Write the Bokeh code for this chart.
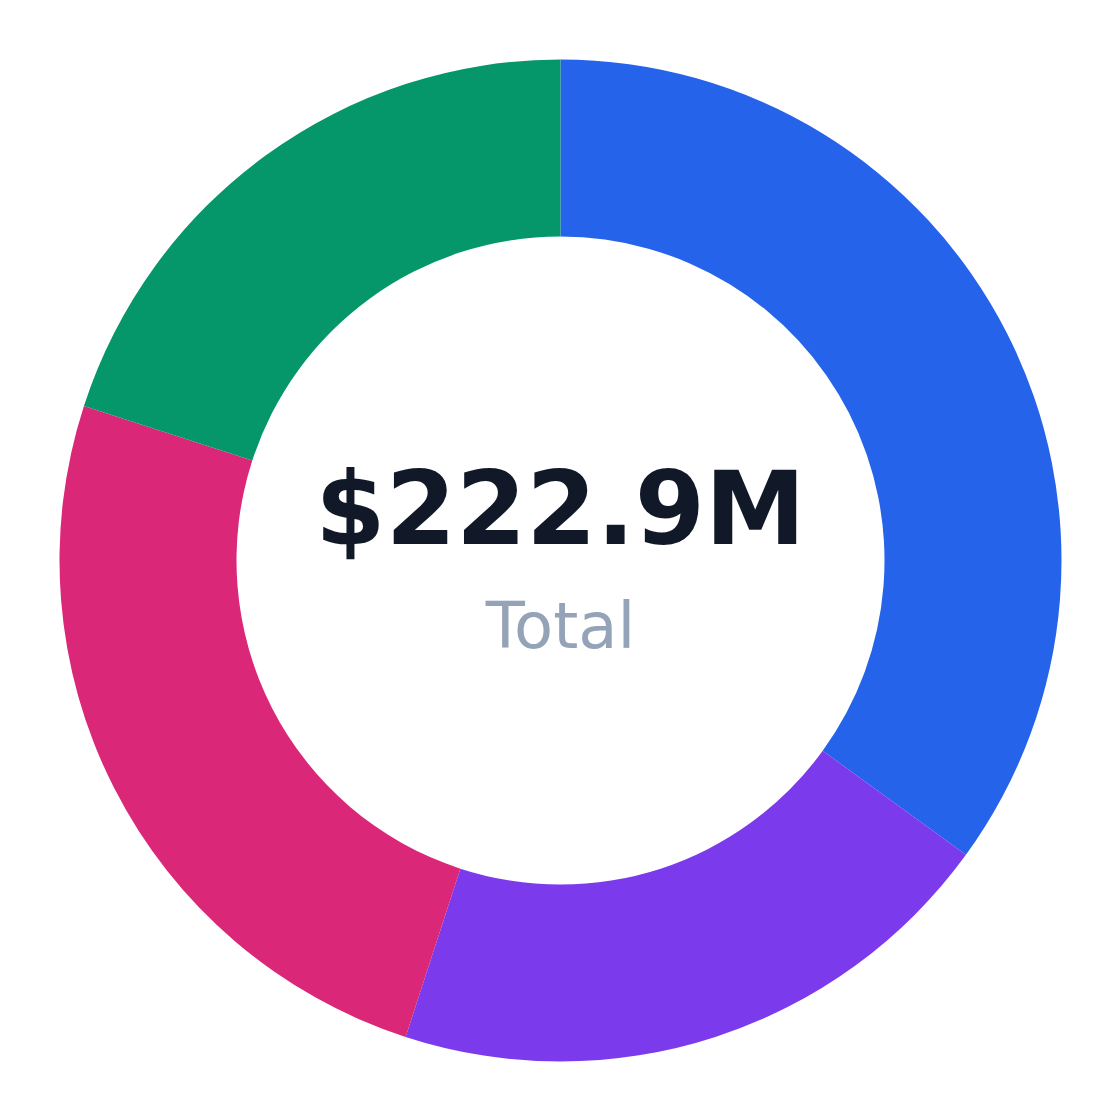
import numpy as np
from bokeh.plotting import figure
from bokeh.models import Range1d, ColumnDataSource
from bokeh.core.properties import value
from bokeh.embed import file_html
from bokeh.resources import INLINE

categories = ["Segment A", "Segment B", "Segment C", "Segment D"]
values = [78.0, 44.6, 55.7, 44.6]
colors = ["#2563eb", "#7c3aed", "#db2777", "#059669"]
total_label = "$222.9M"
sub_label = "Total"

total = sum(values)
fracs = np.array(values) / total
cum = np.concatenate([[0.0], np.cumsum(fracs)])
start = np.pi / 2 - 2 * np.pi * cum[:-1]
end = np.pi / 2 - 2 * np.pi * cum[1:]

src = ColumnDataSource(dict(cat=categories, val=values, start=start, end=end, color=colors))

W = 1112
p = figure(width=W, height=W, x_range=Range1d(-560, 552), y_range=Range1d(-552, 560),
           output_backend="svg", toolbar_location=None, min_border=0)
p.axis.visible = False
p.grid.visible = False
p.outline_line_color = None
p.background_fill_color = "white"
p.border_fill_color = "white"

p.annular_wedge(x=0, y=0, inner_radius=324, outer_radius=501,
                start_angle="start", end_angle="end", direction="clock",
                fill_color="color", line_color=None, source=src)

p.text(x=[0], y=[52], text=[total_label], text_font=value("DejaVu Sans"),
       text_font_style="bold", text_font_size="101px", text_color="#111827",
       text_align="center", text_baseline="alphabetic")
p.text(x=[0], y=[-65], text=[sub_label], text_font=value("DejaVu Sans"),
       text_font_size="64px", text_color="#94a3b8",
       text_align="center", text_baseline="alphabetic")

open("out.html", "w").write(file_html(p, INLINE))
